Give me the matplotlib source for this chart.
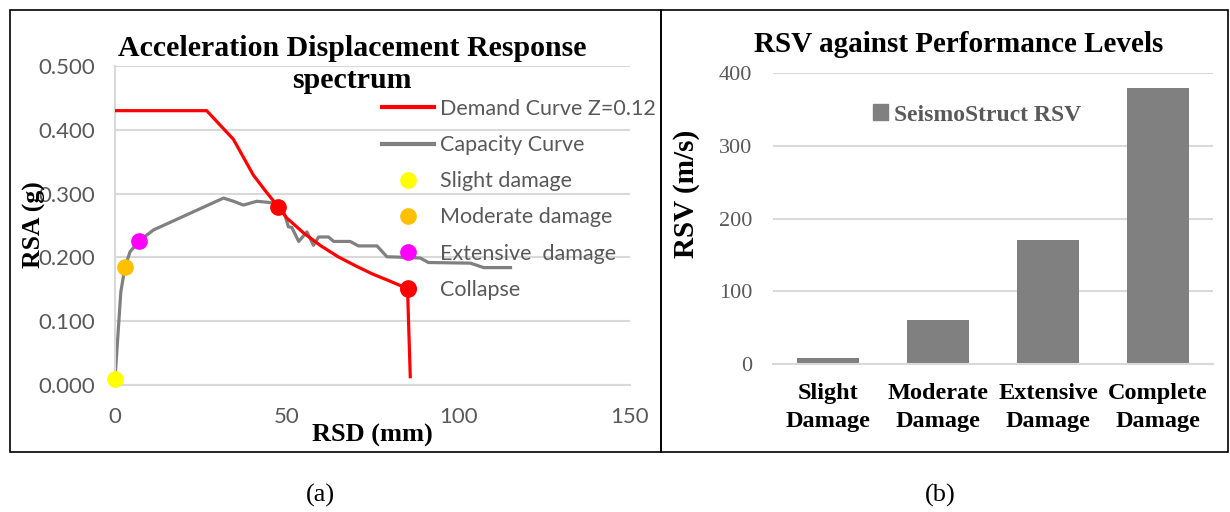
import matplotlib.pyplot as plt
from matplotlib.patches import Rectangle, Patch
from matplotlib.lines import Line2D

# (a) ADRS data: RSD in mm, RSA in g
demand_rsd = [0, 26.7, 34.5, 40.3, 44.0, 47.6, 50, 55, 60, 65, 70, 75, 80, 85.2, 86.0]
demand_rsa = [0.430, 0.430, 0.385, 0.329, 0.303, 0.279, 0.262, 0.238, 0.218, 0.201,
              0.187, 0.174, 0.163, 0.151, 0.013]

capacity_rsd = [0, 1.7, 2.9, 4.4, 7.1, 11.2, 31.6, 34.5, 37.4, 41.3, 45.2, 48.6, 50.5,
                51.5, 53.5, 55.9, 57.8, 59.3, 62.2, 63.7, 68.5, 70.9, 76.3, 79.2, 85.0,
                88.9, 91.3, 103.5, 107.4, 115.2]
capacity_rsa = [0.010, 0.146, 0.185, 0.209, 0.226, 0.243, 0.293, 0.288, 0.282, 0.288,
                0.286, 0.282, 0.248, 0.247, 0.225, 0.240, 0.219, 0.232, 0.232, 0.225,
                0.225, 0.218, 0.218, 0.201, 0.200, 0.199, 0.192, 0.191, 0.184, 0.184]

level_names = ['Slight damage', 'Moderate damage', 'Extensive  damage', 'Collapse']
level_rsd = [0, 2.9, 7.1, 85.2]
level_rsa = [0.010, 0.185, 0.226, 0.151]
level_colors = ['#FFFF00', '#FFC000', '#FF00FF', '#FF0000']
perf_point = (47.6, 0.279)

# (b) RSV per performance level
categories = ['Slight\nDamage', 'Moderate\nDamage', 'Extensive\nDamage', 'Complete\nDamage']
rsv = [8, 60, 170, 380]

W, H = 1230, 512
fig = plt.figure(figsize=(W / 100, H / 100), dpi=100)

def fx(px):
    return px / W

def fy(py):
    return 1 - py / H

sans = ['Lato', 'DejaVu Sans']
serif = ['Liberation Serif', 'DejaVu Serif']
grid_c = '#D9D9D9'
txt_c = '#595959'

# ---------------- (a) ----------------
ax1 = fig.add_axes([fx(115), fy(385), fx(630) - fx(115), fy(66) - fy(385)])
ax1.plot(demand_rsd, demand_rsa, color='#FF0000', lw=2.3, zorder=3)
ax1.plot(capacity_rsd, capacity_rsa, color='#808080', lw=2.3, zorder=2)
ax1.plot(*perf_point, 'o', color='#FF0000', ms=11, zorder=4)
for x, y, c in zip(level_rsd, level_rsa, level_colors):
    ax1.plot(x, y, 'o', color=c, ms=11, zorder=4, clip_on=False)

ax1.set_xlim(0, 150)
ax1.set_ylim(0, 0.5)
ax1.set_xticks([0, 50, 100, 150])
ax1.set_yticks([0, 0.1, 0.2, 0.3, 0.4, 0.5])
ax1.set_yticklabels(['%.3f' % v for v in [0, 0.1, 0.2, 0.3, 0.4, 0.5]])
ax1.grid(axis='y', color=grid_c, lw=1.5)
ax1.set_axisbelow(True)
for s in ['top', 'right']:
    ax1.spines[s].set_visible(False)
for s in ['left', 'bottom']:
    ax1.spines[s].set_color(grid_c)
    ax1.spines[s].set_linewidth(1.5)
ax1.tick_params(length=0, labelcolor=txt_c, labelsize=16)
ax1.tick_params(axis='x', pad=16)
ax1.tick_params(axis='y', pad=14)
for lab in ax1.get_xticklabels() + ax1.get_yticklabels():
    lab.set_family(sans)

handles = [Line2D([], [], color='#FF0000', lw=3),
           Line2D([], [], color='#808080', lw=3)]
handles += [Line2D([], [], ls='none', marker='o', color=c, ms=11) for c in level_colors]
labels = ['Demand Curve Z=0.12', 'Capacity Curve'] + level_names
leg = ax1.legend(handles, labels, loc='upper left', bbox_to_anchor=(fx(382), fy(99)),
                 bbox_transform=fig.transFigure, frameon=False, borderpad=0,
                 borderaxespad=0, handlelength=2.4, handletextpad=0.3,
                 labelspacing=0.75, prop={'family': sans, 'size': 15.5})
for t in leg.get_texts():
    t.set_color(txt_c)
leg.set_zorder(5)

fig.text(fx(352), fy(48), 'Acceleration Displacement Response', ha='center', va='center',
         family=serif, weight='bold', size=21.5)
fig.text(fx(352), fy(80), 'spectrum', ha='center', va='center',
         family=serif, weight='bold', size=21.5)
fig.text(fx(372), fy(435), 'RSD (mm)', ha='center', va='center',
         family=serif, weight='bold', size=19)
fig.text(fx(34), fy(225), 'RSA (g)', ha='center', va='center', rotation=90,
         family=serif, weight='bold', size=18.5)

# ---------------- (b) ----------------
ax2 = fig.add_axes([fx(773), fy(364), fx(1213) - fx(773), fy(73) - fy(364)])
ax2.bar(range(len(categories)), rsv, width=0.57, color='#808080', zorder=2)
ax2.set_xlim(-0.5, len(categories) - 0.5)
ax2.set_ylim(0, 400)
ax2.set_yticks([0, 100, 200, 300, 400])
ax2.set_xticks(range(len(categories)))
ax2.set_xticklabels(categories, family=serif, weight='bold', size=17.5, linespacing=1.4)
ax2.grid(axis='y', color=grid_c, lw=1.5)
ax2.set_axisbelow(True)
for s in ['top', 'right', 'left']:
    ax2.spines[s].set_visible(False)
ax2.spines['bottom'].set_color(grid_c)
ax2.spines['bottom'].set_linewidth(1.5)
ax2.tick_params(length=0)
ax2.tick_params(axis='x', pad=14)
ax2.tick_params(axis='y', pad=15, labelcolor=txt_c, labelsize=16)
for lab in ax2.get_yticklabels():
    lab.set_family(serif)

leg2 = ax2.legend([Patch(color='#808080')], ['SeismoStruct RSV'], loc='center left',
                  bbox_to_anchor=(fx(873), fy(115)), bbox_transform=fig.transFigure,
                  frameon=False, borderpad=0, borderaxespad=0, handlelength=0.65,
                  handleheight=0.65, handletextpad=0.25,
                  prop={'family': serif, 'weight': 'bold', 'size': 17})
for t in leg2.get_texts():
    t.set_color(txt_c)

fig.text(fx(959), fy(45), 'RSV against Performance Levels', ha='center', va='center',
         family=serif, weight='bold', size=21)
fig.text(fx(686), fy(194), 'RSV (m/s)', ha='center', va='center', rotation=90,
         family=serif, weight='bold', size=21)

# panel frames and captions
fig.add_artist(Rectangle((fx(10), fy(452)), fx(661) - fx(10), fy(10) - fy(452),
                         transform=fig.transFigure, fill=False, ec='black', lw=1.2))
fig.add_artist(Rectangle((fx(661), fy(452)), fx(1228) - fx(661), fy(10) - fy(452),
                         transform=fig.transFigure, fill=False, ec='black', lw=1.2))
fig.text(fx(320), fy(495), '(a)', ha='center', va='center', family=serif, size=19)
fig.text(fx(940), fy(495), '(b)', ha='center', va='center', family=serif, size=19)

fig.savefig('out.png', dpi=100)
